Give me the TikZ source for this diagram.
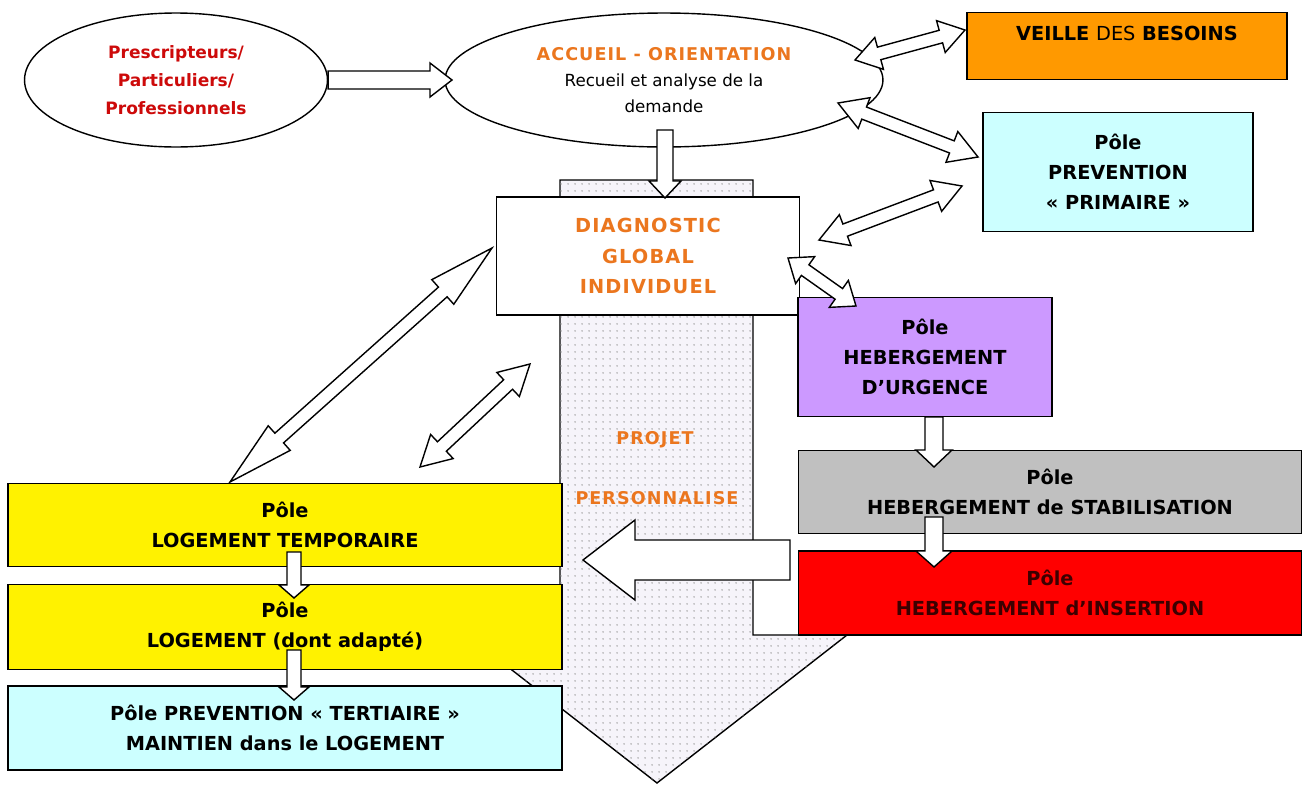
\documentclass[tikz,border=0pt]{standalone}
\usepackage{fontspec}
\setmainfont{DejaVu Sans}
\newfontfamily\spacedfont[LetterSpace=6]{DejaVu Sans}
\usepackage{xcolor}
\usepackage{tikz}
\usetikzlibrary{shapes,arrows,positioning,calc,patterns,patterns.meta}

\definecolor{orangetxt}{RGB}{235,118,30}
\definecolor{redtxt}{RGB}{205,10,10}
\definecolor{veilleorange}{RGB}{255,153,0}
\definecolor{lightcyan}{RGB}{204,255,255}
\definecolor{lilac}{RGB}{204,153,255}
\definecolor{silver}{RGB}{192,192,192}
\definecolor{darkredtxt}{RGB}{60,0,0}
\definecolor{projetbg}{RGB}{246,244,250}

% fat single arrow: from, to, shaft half width, head half width, head length
\newcommand{\fatarrow}[5]{%
  \coordinate (hb) at ($(#2)!#5!(#1)$);
  \draw[fat] ($(#1)!#3!90:(#2)$) -- ($(hb)!#3!90:(#2)$) -- ($(hb)!#4!90:(#2)$)
    -- (#2) -- ($(hb)!#4!-90:(#2)$) -- ($(hb)!#3!-90:(#2)$)
    -- ($(#1)!#3!-90:(#2)$) -- cycle;
}
% fat double arrow: [head length], from, to
\newcommand{\dblarrow}[3][0.5cm]{%
  \coordinate (ha) at ($(#2)!#1!(#3)$);
  \coordinate (hb) at ($(#3)!#1!(#2)$);
  \draw[fat] (#2) -- ($(ha)!0.33cm!90:(#3)$) -- ($(ha)!0.13cm!90:(#3)$)
    -- ($(hb)!0.13cm!90:(#3)$) -- ($(hb)!0.33cm!90:(#3)$) -- (#3)
    -- ($(hb)!0.33cm!-90:(#3)$) -- ($(hb)!0.13cm!-90:(#3)$)
    -- ($(ha)!0.13cm!-90:(#3)$) -- ($(ha)!0.33cm!-90:(#3)$) -- cycle;
}

\begin{document}
\begin{tikzpicture}[x=0.02cm,y=-0.02cm,
  fat/.style={draw=black,fill=white,line width=0.8pt,line join=miter},
  oval/.style={ellipse,draw,line width=0.8pt,fill=white,align=center,inner sep=0pt},
  pole/.style={draw,line width=0.8pt,align=center,inner sep=0pt,
    font=\bfseries\fontsize{11}{17}\selectfont},
  projtxt/.style={text=orangetxt,font=\spacedfont\bfseries\fontsize{10}{12}\selectfont},
  projetarrow/.style={draw,line width=0.8pt,fill=projetbg,
    postaction={pattern={Dots[distance=4pt,radius=0.5pt]},pattern color=gray!80}}]
\useasboundingbox (0,0) rectangle (1303,785);

% Projet personnalise (background arrow)
\draw[projetarrow] (560,180) -- (753,180) -- (753,635) -- (847,635)
  -- (657,783) -- (467,635) -- (560,635) -- cycle;
\node[projtxt] (projet) at (655,440) {PROJET};
\node[projtxt] (perso) at (657,498) {PERSONNALISE};

% Entry
\node[oval,minimum width=6.06cm,minimum height=2.68cm,text=redtxt,
  font=\bfseries\fontsize{9.7}{16}\selectfont] (pres) at (176,80)
  {Prescripteurs/\\Particuliers/\\Professionnels};
\node[oval,minimum width=8.76cm,minimum height=2.68cm,
  font=\fontsize{9.5}{15}\selectfont] (accueil) at (664,80)
  {{\spacedfont\bfseries\color{orangetxt}\fontsize{10}{15}\selectfont ACCUEIL - ORIENTATION}\\
   Recueil et analyse de la\\demande};
\node[pole,minimum width=6.06cm,minimum height=2.36cm,fill=white,text=orangetxt,
  font=\spacedfont\bfseries\fontsize{11}{17.6}\selectfont] (diag) at (648,256)
  {DIAGNOSTIC\\GLOBAL\\INDIVIDUEL};

% Right side poles
\node[pole,minimum width=6.4cm,minimum height=1.34cm,fill=veilleorange,
  text depth=0.5cm] (veille) at (1127,46)
  {VEILLE {\mdseries DES} BESOINS};
\node[pole,minimum width=5.4cm,minimum height=2.38cm,fill=lightcyan] (prim) at (1118,172)
  {P\^ole\\PREVENTION\\« PRIMAIRE »};
\node[pole,minimum width=5.08cm,minimum height=2.38cm,fill=lilac] (urg) at (925,357)
  {P\^ole\\HEBERGEMENT\\D'URGENCE};
\node[pole,minimum width=10.06cm,minimum height=1.66cm,fill=silver] (stab) at (1050,492)
  {P\^ole\\HEBERGEMENT de STABILISATION};
\node[pole,minimum width=10.06cm,minimum height=1.68cm,fill=red,text=darkredtxt] (ins) at (1050,593)
  {P\^ole\\HEBERGEMENT d'INSERTION};

% Left side poles
\node[pole,minimum width=11.08cm,minimum height=1.66cm,fill=yellow] (logtemp) at (285,525)
  {P\^ole\\LOGEMENT TEMPORAIRE};
\node[pole,minimum width=11.08cm,minimum height=1.7cm,fill=yellow] (logadapt) at (285,627)
  {P\^ole\\LOGEMENT (dont adapt\'e)};
\node[pole,minimum width=11.08cm,minimum height=1.68cm,fill=lightcyan] (prevtert) at (285,728)
  {P\^ole PREVENTION « TERTIAIRE »\\MAINTIEN dans le LOGEMENT};

% Arrow ends
\coordinate (accIn) at (452,80);
\coordinate (accDown) at (665,130);
\coordinate (diagIn) at (665,198);
\coordinate (accV) at (855,60);
\coordinate (veilleIn) at (965,30);
\coordinate (accP) at (838,103);
\coordinate (primIn) at (978,157);
\coordinate (diagP) at (819,240);
\coordinate (primIn2) at (962,186);
\coordinate (diagU) at (788,258);
\coordinate (urgIn) at (856,306);
\coordinate (diagL) at (492,248);
\coordinate (logIn) at (230,482);
\coordinate (diagL2) at (530,364);
\coordinate (logIn2) at (420,467);
\coordinate (urgOut) at (934,417);
\coordinate (stabIn) at (934,467);
\coordinate (stabOut) at (934,517);
\coordinate (insIn) at (934,567);
\coordinate (insOut) at (790,560);
\coordinate (projIn) at (583,560);
\coordinate (tempOut) at (294,552);
\coordinate (adaptIn) at (294,598);
\coordinate (adaptOut) at (294,650);
\coordinate (tertIn) at (294,700);

% Single arrows
\fatarrow{pres.east}{accIn}{0.18cm}{0.34cm}{0.44cm}
\fatarrow{accDown}{diagIn}{0.16cm}{0.32cm}{0.34cm}
\fatarrow{urgOut}{stabIn}{0.18cm}{0.36cm}{0.34cm}
\fatarrow{stabOut}{insIn}{0.18cm}{0.36cm}{0.32cm}
\fatarrow{insOut}{projIn}{0.4cm}{0.8cm}{1.04cm}
\fatarrow{tempOut}{adaptIn}{0.14cm}{0.3cm}{0.26cm}
\fatarrow{adaptOut}{tertIn}{0.14cm}{0.3cm}{0.26cm}

% Double arrows
\dblarrow{accV}{veilleIn}
\dblarrow[0.56cm]{accP}{primIn}
\dblarrow[0.56cm]{diagP}{primIn2}
\dblarrow[0.42cm]{diagU}{urgIn}
\dblarrow[1.32cm]{diagL}{logIn}
\dblarrow[0.6cm]{diagL2}{logIn2}
\end{tikzpicture}
\end{document}
